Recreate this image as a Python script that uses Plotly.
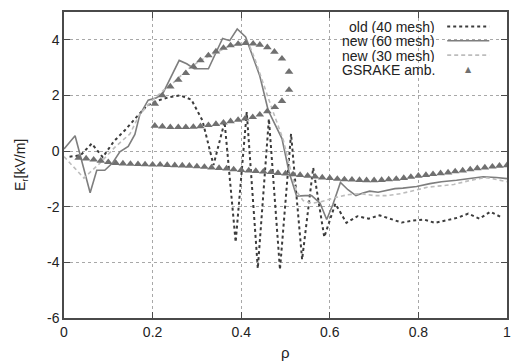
import plotly.graph_objects as go

# ---------------- data ----------------
old40_x = [0.0125, 0.0375, 0.0625, 0.0875, 0.1125, 0.1375, 0.1625, 0.1875, 0.2125, 0.2375,
           0.2625, 0.2875, 0.3125, 0.3375, 0.3625, 0.3875, 0.4125, 0.4375, 0.4625, 0.4875,
           0.5125, 0.5375, 0.5625, 0.5875, 0.6125, 0.6375, 0.6625, 0.6875, 0.7125, 0.7375,
           0.7625, 0.7875, 0.8125, 0.8375, 0.8625, 0.8875, 0.9125, 0.9375, 0.9625, 0.9875]
old40_y = [-0.2, -0.15, 0.27, -0.22, 0.35, 0.75, 1.2, 1.64, 1.82, 1.94,
           2.0, 1.85, 1.1, -0.5, 1.05, -3.27, 1.4, -4.22, 1.16, -4.26,
           0.62, -3.9, -0.6, -3.09, -1.89, -2.58, -2.34, -2.43, -2.31, -2.45,
           -2.57, -2.5, -2.46, -2.58, -2.5, -2.4, -2.25, -2.43, -2.18, -2.38]

new60_x = [0.0, 0.025, 0.059, 0.074, 0.092, 0.11, 0.126, 0.145, 0.16, 0.171,
           0.19, 0.209, 0.224, 0.26, 0.277, 0.294, 0.326, 0.345, 0.358, 0.374,
           0.391, 0.41, 0.423, 0.442, 0.461, 0.476, 0.492, 0.508, 0.525, 0.544,
           0.559, 0.578, 0.593, 0.607, 0.624, 0.641, 0.659, 0.675, 0.69, 0.709,
           0.728, 0.747, 0.765, 0.796, 0.826, 0.852, 0.886, 0.916, 0.946, 0.976, 1.0]
new60_y = [0.08, 0.55, -1.5, -0.69, -0.69, -0.42, -0.03, 0.17, 0.6, 1.3,
           1.83, 1.92, 2.1, 3.26, 3.14, 2.96, 2.96, 3.62, 4.05, 3.97,
           4.39, 4.1, 3.55, 2.7, 1.46, 0.98, 0.45, -0.75, -1.62, -1.6,
           -1.6, -1.87, -2.46, -1.92, -1.13, -1.39, -1.6, -1.51, -1.44, -1.48,
           -1.41, -1.35, -1.33, -1.27, -1.17, -1.1, -1.05, -0.98, -0.92, -0.95, -0.99]

new30_x = [0.0, 0.045, 0.08, 0.115, 0.149, 0.17, 0.198, 0.224, 0.25, 0.28,
           0.31, 0.34, 0.37, 0.4, 0.416, 0.43, 0.45, 0.47, 0.495, 0.512,
           0.525, 0.54, 0.56, 0.58, 0.61, 0.64, 0.67, 0.70, 0.73, 0.76,
           0.79, 0.82, 0.85, 0.88, 0.91, 0.95, 0.97, 1.0]
new30_y = [-0.2, -0.97, -0.45, 0.14, 0.62, 1.3, 1.8, 2.18, 2.5, 2.95,
           3.28, 3.52, 3.75, 3.88, 3.9, 3.35, 2.4, 1.5, 0.4, -0.72,
           -1.45, -1.78, -1.88, -1.82, -1.68, -1.57, -1.53, -1.6, -1.6, -1.53,
           -1.42, -1.3, -1.25, -1.2, -1.08, -0.95, -1.0, -1.1]

# GSRAKE ambipolar roots: ion root (lower branch)
gs_ion_x = [0.033, 0.05, 0.067, 0.083, 0.1, 0.117, 0.133, 0.15, 0.167, 0.183,
            0.2, 0.217, 0.233, 0.25, 0.267, 0.283, 0.3, 0.317, 0.333, 0.35,
            0.367, 0.383, 0.4, 0.417, 0.433, 0.45, 0.467, 0.483, 0.5, 0.517,
            0.533, 0.55, 0.567, 0.583, 0.6, 0.617, 0.633, 0.65, 0.667, 0.683,
            0.7, 0.717, 0.733, 0.75, 0.767, 0.783, 0.8, 0.817, 0.833, 0.85,
            0.867, 0.883, 0.9, 0.917, 0.933, 0.95, 0.967, 0.983, 1.0]
gs_ion_y = [-0.24, -0.27, -0.31, -0.35, -0.40, -0.43, -0.45, -0.46, -0.47, -0.48,
            -0.49, -0.49, -0.50, -0.51, -0.52, -0.53, -0.55, -0.57, -0.59, -0.61,
            -0.63, -0.66, -0.68, -0.70, -0.72, -0.74, -0.76, -0.79, -0.81, -0.84,
            -0.86, -0.89, -0.92, -0.95, -0.97, -1.00, -1.02, -1.03, -1.04, -1.05,
            -1.05, -1.04, -1.02, -1.00, -0.97, -0.93, -0.89, -0.86, -0.83, -0.80,
            -0.77, -0.73, -0.70, -0.66, -0.62, -0.59, -0.56, -0.53, -0.51]
# electron root and unstable root (loop)
gs_loop_x = [0.205, 0.222, 0.24, 0.258, 0.275, 0.292, 0.308, 0.326, 0.343, 0.36,
             0.376, 0.393, 0.41, 0.427, 0.442, 0.459, 0.475, 0.492, 0.508, 0.508,
             0.492, 0.476, 0.459, 0.442, 0.426, 0.409, 0.393, 0.376, 0.36, 0.343,
             0.326, 0.308, 0.292, 0.275, 0.258, 0.24, 0.222, 0.205]
gs_loop_y = [1.70, 2.0, 2.32, 2.56, 2.80, 3.04, 3.26, 3.44, 3.58, 3.71,
             3.80, 3.85, 3.88, 3.86, 3.82, 3.73, 3.57, 3.32, 2.85, 2.2,
             1.80, 1.58, 1.43, 1.31, 1.22, 1.17, 1.12, 1.07, 1.02, 0.97,
             0.93, 0.89, 0.87, 0.86, 0.86, 0.86, 0.88, 0.91]

x_ticks = [0, 0.2, 0.4, 0.6, 0.8, 1]
x_tick_text = ["0", "0.2", "0.4", "0.6", "0.8", "1"]
y_ticks = [-6, -4, -2, 0, 2, 4]
y_tick_text = ["-6", "-4", "-2", "0", "2", "4"]

legend_labels = ["old (40 mesh)", "new (60 mesh)", "new (30 mesh)", "GSRAKE amb."]

# ---------------- styles ----------------
C_OLD = "#3c3c3c"
C_NEW60 = "#7e7e7e"
C_NEW30 = "#bdbdbd"
C_GS = "#707070"
FONT = "Liberation Sans"

fig = go.Figure()
fig.add_trace(go.Scatter(x=old40_x, y=old40_y, mode="lines", name=legend_labels[0],
                         line=dict(color=C_OLD, width=2, dash="dot")))
fig.add_trace(go.Scatter(x=new60_x, y=new60_y, mode="lines", name=legend_labels[1],
                         line=dict(color=C_NEW60, width=1.6)))
fig.add_trace(go.Scatter(x=new30_x, y=new30_y, mode="lines", name=legend_labels[2],
                         line=dict(color=C_NEW30, width=1.6, dash="4px,3px")))
fig.add_trace(go.Scatter(x=gs_ion_x + gs_loop_x, y=gs_ion_y + gs_loop_y, mode="markers",
                         name=legend_labels[3],
                         marker=dict(symbol="triangle-up", size=7.5, color=C_GS)))

axis_common = dict(
    showline=True, linecolor="#4a4a4a", linewidth=1.5, mirror="ticks",
    ticks="inside", ticklen=6, tickwidth=1.2, tickcolor="#4a4a4a",
    showgrid=True, gridcolor="#a8a8a8", gridwidth=1, griddash="dot",
    zeroline=False, tickfont=dict(family=FONT, size=14, color="#222"),
    automargin=False, ticklabeloverflow="allow",
)
fig.update_xaxes(range=[0, 1], tickvals=x_ticks, ticktext=x_tick_text, **axis_common)
fig.update_yaxes(range=[-6, 5], tickvals=y_ticks, ticktext=y_tick_text, **axis_common)

# axis titles
fig.add_annotation(xref="paper", yref="paper", x=-0.097, y=0.5, text="E<sub>r</sub>[kV/m]",
                   textangle=-90, showarrow=False, xanchor="center", yanchor="middle",
                   font=dict(family=FONT, size=14, color="#222"))
fig.add_annotation(xref="paper", yref="paper", x=0.5, y=-0.113, text="ρ",
                   showarrow=False, xanchor="center", yanchor="middle",
                   font=dict(family=FONT, size=15, color="#222"))

# legend box (white, hides grid) and entries, text right-aligned with sample at the right
fig.add_shape(type="rect", xref="paper", yref="paper", x0=0.595, x1=1.0, y0=0.795, y1=1.0,
              fillcolor="white", line=dict(width=0), layer="between")
leg_y = [0.953, 0.906, 0.859, 0.811]
for i, lab in enumerate(legend_labels):
    fig.add_annotation(xref="paper", yref="paper", x=0.843, y=leg_y[i], text=lab,
                       showarrow=False, xanchor="right", yanchor="middle", height=13,
                       font=dict(family=FONT, size=14, color="#222"))
samples = [(C_OLD, 2, "dot"), (C_NEW60, 1.6, "solid"), (C_NEW30, 1.6, "4px,3px")]
for i, (c, w, d) in enumerate(samples):
    fig.add_shape(type="line", xref="paper", yref="paper", x0=0.865, x1=0.96,
                  y0=leg_y[i], y1=leg_y[i], line=dict(color=c, width=w, dash=d))
fig.add_annotation(xref="paper", yref="paper", x=0.9125, y=leg_y[3], text="▲",
                   showarrow=False, xanchor="center", yanchor="middle",
                   font=dict(family="DejaVu Sans", size=8, color=C_GS))

fig.update_layout(
    width=514, height=361, showlegend=False,
    margin=dict(l=64, r=7, t=12, b=43),
    paper_bgcolor="white", plot_bgcolor="white",
    font=dict(family=FONT),
)
fig.write_html("out.html", config={"displayModeBar": False},
               post_script="document.body.style.margin='0';document.body.style.overflow='hidden';")
